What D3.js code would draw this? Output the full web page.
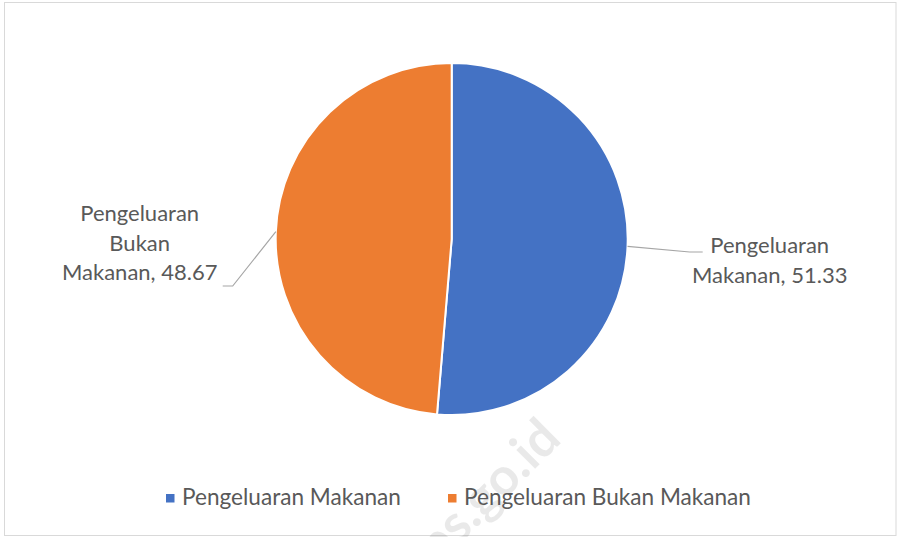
<!DOCTYPE html>
<html>
<head>
<meta charset="utf-8">
<script src="https://cdn.jsdelivr.net/npm/d3@7"></script>
<style>
  body { margin: 0; background: #fff; }
  svg text { font-family: Lato, "Open Sans", sans-serif; fill: #595959; }
</style>
</head>
<body>
<svg id="chart" width="897" height="537"></svg>
<script>
// data
const categories = ["Pengeluaran Makanan", "Pengeluaran Bukan Makanan"]
const values = [51.33, 48.67]
const labelLines = [["Pengeluaran", "Makanan, 51.33"], ["Pengeluaran", "Bukan", "Makanan, 48.67"]]
const colors = ["#4472C4", "#ED7D31"]

const width = 897, height = 537
const cx = 451.7, cy = 239, radius = 176

const svg = d3.select("#chart")

// chart frame
svg.append("rect")
    .attr("x", 4.5).attr("y", 2.5)
    .attr("width", 891.5).attr("height", 533)
    .attr("fill", "#fff")
    .attr("stroke", "#d9d9d9")
    .attr("stroke-width", 1)

// faint watermark (sits under the marks)
svg.append("text")
    .attr("transform", "translate(563,441) rotate(-45)")
    .attr("text-anchor", "end")
    .attr("font-size", 52)
    .attr("font-weight", "bold")
    .style("fill", "#000")
    .style("fill-opacity", 0.085)
    .text("bps.go.id")

const color = d3.scaleOrdinal().domain(categories).range(colors)

const pie = d3.pie().sort(null).value(d => d.value)
const arcs = pie(categories.map((c, i) => ({name: c, value: values[i], lines: labelLines[i]})))

const arc = d3.arc().innerRadius(0).outerRadius(radius)

const g = svg.append("g").attr("transform", `translate(${cx},${cy})`)

g.selectAll("path.slice").data(arcs).enter().append("path")
    .attr("class", "slice")
    .attr("d", arc)
    .attr("fill", d => color(d.data.name))
    .attr("stroke", "#fff")
    .attr("stroke-width", 2)

// leader lines: start at arc midpoint, elbow, then short horizontal run
const leaders = [
    {elbow: [238, 13], end: [251, 13]},
    {elbow: [-219, 47], end: [-229, 47]}
]
const lineHeight = 29.5
const firstBaseline = [14, -18]

arcs.forEach((d, i) => {
    const mid = (d.startAngle + d.endAngle) / 2
    const p0 = [radius * Math.sin(mid), -radius * Math.cos(mid)]
    const L = leaders[i]
    g.append("polyline")
        .attr("points", [p0, L.elbow, L.end].map(p => p.join(",")).join(" "))
        .attr("fill", "none")
        .attr("stroke", "#a6a6a6")
        .attr("stroke-width", 1.2)

    const t = g.append("text")
        .attr("text-anchor", "middle")
        .attr("font-size", 22)
    const lx = i === 0 ? L.end[0] + 67 : L.end[0] - 83
    d.data.lines.forEach((line, k) => {
        t.append("tspan")
            .attr("x", lx)
            .attr("y", firstBaseline[i] + k * lineHeight)
            .text(line)
    })
})

// legend
const legendX = [166, 448]
const legend = svg.append("g")
categories.forEach((c, i) => {
    legend.append("rect")
        .attr("x", legendX[i]).attr("y", 494)
        .attr("width", 8.5).attr("height", 8.5)
        .attr("fill", color(c))
    legend.append("text")
        .attr("x", legendX[i] + 16).attr("y", 505)
        .attr("font-size", 22.6)
        .text(c)
})
</script>
</body>
</html>
